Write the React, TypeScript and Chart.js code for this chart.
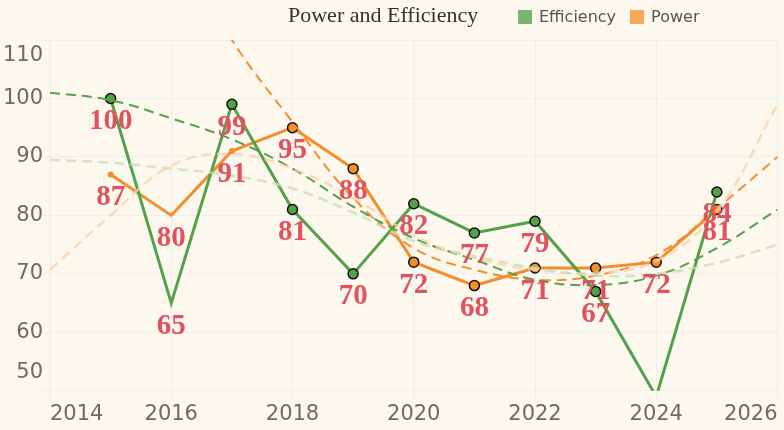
import React, { useEffect, useRef } from "react";
import { Chart, registerables } from "chart.js";
Chart.register(...registerables);

const years = [2015, 2016, 2017, 2018, 2019, 2020, 2021, 2022, 2023, 2024, 2025];
const efficiency = [100, 65, 99, 81, 70, 82, 77, 79, 67, 49, 84];
const power = [87, 80, 91, 95, 88, 72, 68, 71, 71, 72, 81];
const effRadius = [5, 0, 5, 5, 5, 5, 5, 5, 5, 0, 5];
const powRadius = [3, 0, 3, 5, 5, 5, 5, 5, 5, 5, 5];
const trendYears = [2014, 2015, 2016, 2017, 2018, 2019, 2020, 2021, 2022, 2023, 2024, 2025, 2026];
const effTrendA = [101, 99.7, 96.6, 93, 88, 81.5, 76.1, 72.4, 69, 68.1, 69.7, 74.4, 81];
const effTrendB = [89.5, 89, 88, 86.8, 84.6, 80.5, 75.6, 73, 71, 69.7, 70, 71.9, 75];
const powTrendA = [175, 150, 128, 110, 96, 83, 74.4, 70.7, 69, 69.7, 73.2, 81.2, 90];
const powTrendB = [70.7, 80, 88.5, 90.5, 88, 83, 76.6, 72.7, 70.7, 70.2, 72.2, 80.7, 99];
const yTicks = [50, 60, 70, 80, 90, 100, 110];

const GREEN = "#55a04a";
const ORANGE = "#f28e2b";

export default function App() {
  const ref = useRef<HTMLCanvasElement>(null);
  useEffect(() => {
    document.body.style.margin = "0";
    const toXY = (xs: number[], ys: number[]) => xs.map((x, i) => ({ x, y: ys[i] }));
    const labelPlugin = {
      id: "labels",
      afterDatasetsDraw(chart: any) {
        const ctx = chart.ctx;
        const xs = chart.scales.x, ys = chart.scales.y;
        ctx.save();
        ctx.font = "bold 29px 'Liberation Serif'";
        ctx.fillStyle = "#e0525e";
        ctx.textAlign = "center";
        ctx.textBaseline = "middle";
        [efficiency, power].forEach((arr) => {
          arr.forEach((v, i) => {
            if (v < ys.min || v > ys.max) return;
            ctx.fillText(String(v), xs.getPixelForValue(years[i]), ys.getPixelForValue(v) + 23);
          });
        });
        ctx.restore();
      },
      afterDraw(chart: any) {
        const ctx = chart.ctx;
        const ys = chart.scales.y;
        const area = chart.chartArea;
        ctx.save();
        ctx.font = "21px 'DejaVu Sans'";
        ctx.fillStyle = "#6b6b6b";
        ctx.textAlign = "right";
        ctx.textBaseline = "middle";
        yTicks.forEach((t) => {
          let p = ys.getPixelForValue(t);
          p = Math.max(area.top + 16, Math.min(area.bottom - 18, p));
          ctx.fillText(String(t), 43, p);
        });
        ctx.restore();
      },
    };
    const trend = (data: number[], color: string, w: number) => ({
      type: "line" as const,
      data: toXY(trendYears, data),
      borderColor: color,
      borderWidth: w,
      borderDash: [10, 6],
      pointRadius: 0,
      tension: 0.4,
      fill: false,
    });
    const chart = new Chart(ref.current!, {
      type: "line",
      data: {
        datasets: [
          trend(effTrendB, "rgba(200,222,185,0.8)", 2.5),
          trend(powTrendB, "rgba(250,210,170,0.8)", 2.5),
          trend(effTrendA, GREEN, 2),
          trend(powTrendA, ORANGE, 2),
          {
            data: toXY(years, efficiency),
            borderColor: GREEN,
            borderWidth: 3,
            pointRadius: effRadius,
            pointBackgroundColor: GREEN,
            pointBorderColor: "#111",
            pointBorderWidth: 1.5,
            tension: 0,
          },
          {
            data: toXY(years, power),
            borderColor: ORANGE,
            borderWidth: 3,
            pointRadius: powRadius,
            pointBackgroundColor: ORANGE,
            pointBorderColor: powRadius.map((r) => (r === 3 ? ORANGE : "#111")),
            pointBorderWidth: powRadius.map((r) => (r === 3 ? 0 : 1.5)),
            tension: 0,
          },
        ],
      },
      options: {
        animation: false,
        responsive: false,
        layout: { padding: { top: 40, right: 1 } },
        plugins: { legend: { display: false }, tooltip: { enabled: false } },
        scales: {
          x: {
            type: "linear",
            min: 2014,
            max: 2026,
            ticks: { stepSize: 2, align: "inner", color: "#6b6b6b", font: { size: 21, family: "DejaVu Sans" }, callback: (v: any) => String(v) },
            grid: { color: "#eceef0" },
            border: { display: false },
          },
          y: {
            min: 50,
            max: 110,
            ticks: { stepSize: 10, display: false },
            afterFit: (s: any) => { s.width = 50; },
            grid: { color: "#eceef0" },
            border: { display: false },
          },
        },
      },
      plugins: [labelPlugin],
    } as any);
    return () => chart.destroy();
  }, []);
  return (
    <div style={{ position: "relative", width: 784, height: 430, background: "#fdf8ee" }}>
      <canvas ref={ref} width={784} height={430} style={{ display: "block" }} />
      <div style={{ position: "absolute", left: 288, top: 2, fontFamily: "'Liberation Serif'", fontSize: 22, color: "#333" }}>Power and Efficiency</div>
      <div style={{ position: "absolute", left: 518, top: 7, display: "flex", alignItems: "center", fontFamily: "'DejaVu Sans'", fontSize: 16, color: "#555" }}>
        <span style={{ width: 14, height: 14, background: "#7bb56d", marginRight: 7 }} />
        <span style={{ marginRight: 14 }}>Efficiency</span>
        <span style={{ width: 14, height: 14, background: "#f5a85a", marginRight: 7 }} />
        <span>Power</span>
      </div>
    </div>
  );
}
